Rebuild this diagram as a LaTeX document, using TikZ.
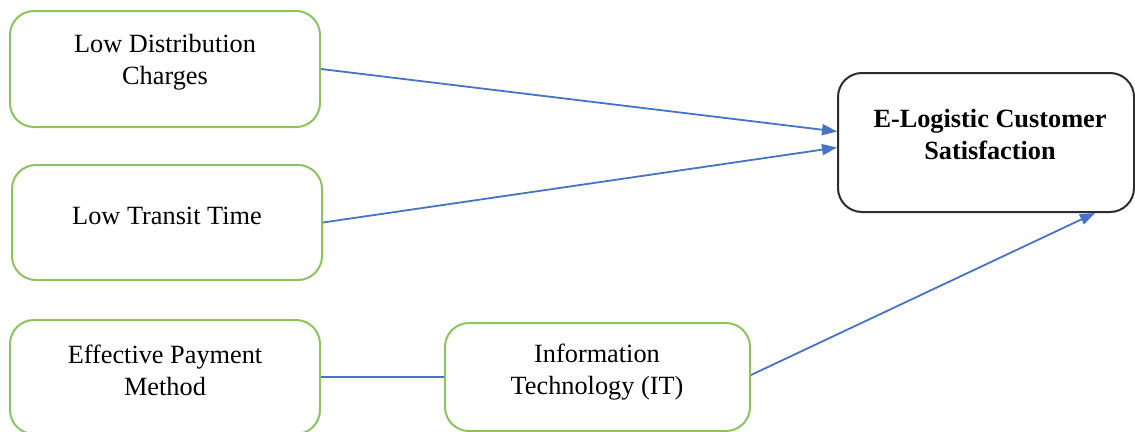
\documentclass[tikz,border=0pt]{standalone}
\usepackage{fontspec}
\setmainfont{Liberation Serif}
\usetikzlibrary{arrows.meta,calc}
\definecolor{gborder}{RGB}{140,195,95}
\definecolor{bline}{RGB}{70,115,195}
\definecolor{kborder}{RGB}{45,45,45}
\tikzset{
  gbox/.style={draw=gborder, line width=2pt, rounded corners=24pt, inner sep=0pt},
  kbox/.style={draw=kborder, line width=2pt, rounded corners=24pt, inner sep=0pt},
  txt/.style={align=center, inner sep=0pt, font=\fontsize{26.3}{32}\selectfont},
  conn/.style={draw=bline, line width=1.8pt},
  arr/.style={conn, -{Triangle[length=15pt,width=11pt]}}
}
\begin{document}
\begin{tikzpicture}[x=1pt,y=-1pt]
\useasboundingbox (0,0) rectangle (1135,431);
\node[gbox, minimum width=310pt, minimum height=116pt] (b1) at (165,69) {};
\node[gbox, minimum width=310pt, minimum height=115pt] (b2) at (167,222.5) {};
\node[gbox, minimum width=310pt, minimum height=114pt] (b3) at (165,377) {};
\node[gbox, minimum width=305pt, minimum height=108pt] (b4) at (597.5,377) {};
\node[kbox, minimum width=296pt, minimum height=139pt] (b5) at (986,142.5) {};
\node[txt] (t1) at (165,62) {Low Distribution\\Charges};
\node[txt] (t2) at (167,216) {Low Transit Time};
\node[txt] (t3) at (165,370) {Effective Payment\\Method};
\node[txt] (t4) at (597,372) {Information\\Technology (IT)};
\node[txt, font=\fontsize{26.3}{32}\selectfont\bfseries] (t5) at (990,135) {E-Logistic Customer\\Satisfaction};
\draw[arr] (b1.east) -- ($(b5.west)+(0,-11)$);
\draw[arr] (b2.east) -- ($(b5.west)+(0,5)$);
\draw[conn] (b3.east) -- (b4.west);
\draw[arr] ($(b4.east)+(0,-2)$) -- ($(b5.south)+(109,0)$);
\end{tikzpicture}
\end{document}
